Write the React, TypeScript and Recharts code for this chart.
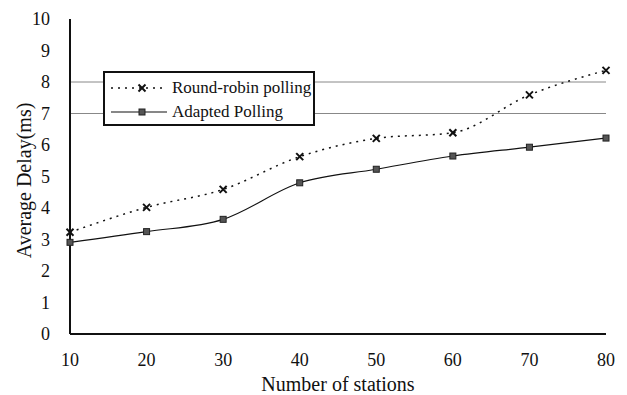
import { LineChart, Line, XAxis, YAxis, ReferenceLine } from 'recharts';

const stations = [10, 20, 30, 40, 50, 60, 70, 80];
const roundRobin = [3.23, 4.02, 4.59, 5.63, 6.21, 6.39, 7.59, 8.37];
const adapted = [2.91, 3.25, 3.64, 4.8, 5.23, 5.65, 5.93, 6.22];
const yTicks = [0, 1, 2, 3, 4, 5, 6, 7, 8, 9, 10];
const gridValues = [7, 8];

const data = stations.map((s, i) => ({ s, rr: roundRobin[i], ap: adapted[i] }));

const FONT = "'Liberation Serif', serif";

function Cross(props: any) {
  const { cx, cy } = props;
  if (cx == null || cy == null) return null;
  return (
    <g stroke="#111" strokeWidth={2}>
      <line x1={cx - 3.5} y1={cy - 3.5} x2={cx + 3.5} y2={cy + 3.5} />
      <line x1={cx - 3.5} y1={cy + 3.5} x2={cx + 3.5} y2={cy - 3.5} />
    </g>
  );
}

function Square(props: any) {
  const { cx, cy } = props;
  if (cx == null || cy == null) return null;
  return <rect x={cx - 3} y={cy - 3} width={6} height={6} fill="#555" stroke="#222" strokeWidth={1} />;
}

function LegendBox() {
  return (
    <div
      style={{
        position: 'absolute',
        left: 103,
        top: 71,
        border: '2px solid #111',
        background: '#fff',
        width: 212,
        height: 55,
        boxSizing: 'border-box',
        fontFamily: FONT,
        fontSize: 17,
        color: '#111',
        padding: '3px 0 0 4px',
        whiteSpace: 'nowrap',
      }}
    >
      <div style={{ display: 'flex', alignItems: 'center', height: 24 }}>
        <svg width={60} height={12}>
          <line x1={2} y1={6} x2={58} y2={6} stroke="#111" strokeWidth={1.5} strokeDasharray="2 5" />
          <Cross cx={33} cy={6} />
        </svg>
        <span style={{ marginLeft: 3 }}>Round-robin polling</span>
      </div>
      <div style={{ display: 'flex', alignItems: 'center', height: 24 }}>
        <svg width={60} height={12}>
          <line x1={2} y1={6} x2={58} y2={6} stroke="#111" strokeWidth={1.2} />
          <Square cx={33} cy={6} />
        </svg>
        <span style={{ marginLeft: 3 }}>Adapted Polling</span>
      </div>
    </div>
  );
}

export default function App() {
  return (
    <div style={{ position: 'absolute', left: 0, top: 0, width: 627, height: 395, background: '#fff' }}>
      <LineChart width={627} height={395} data={data} margin={{ top: 19, right: 21, bottom: 0, left: 0 }}>
        {gridValues.map((g) => (
          <ReferenceLine key={g} y={g} stroke="#888" strokeWidth={1} />
        ))}
        <XAxis
          dataKey="s"
          type="number"
          domain={[10, 80]}
          ticks={stations}
          height={61}
          axisLine={{ stroke: '#111', strokeWidth: 2 }}
          tickLine={false}
          tickMargin={13}
          tick={{ fill: '#111', fontSize: 18, fontFamily: FONT }}
          label={{ value: 'Number of stations', position: 'insideBottom', offset: 4, fill: '#111', fontSize: 20, fontFamily: FONT }}
        />
        <XAxis xAxisId="top" dataKey="s" type="number" domain={[10, 80]} orientation="top" height={0} tick={false} tickLine={false} axisLine={{ stroke: '#111', strokeWidth: 1.5 }} />
        <YAxis
          type="number"
          domain={[0, 10]}
          ticks={yTicks}
          width={70}
          interval={0}
          axisLine={{ stroke: '#111', strokeWidth: 2 }}
          tickLine={false}
          tickMargin={14}
          tick={{ fill: '#111', fontSize: 18, fontFamily: FONT }}
          label={{ value: 'Average Delay(ms)', angle: -90, position: 'insideLeft', offset: 24, dy: 4, fill: '#111', fontSize: 20, fontFamily: FONT, style: { textAnchor: 'middle' } }}
        />
        <YAxis yAxisId="right" orientation="right" domain={[0, 10]} width={0} tick={false} tickLine={false} axisLine={{ stroke: '#111', strokeWidth: 2 }} />
        <Line
          dataKey="rr"
          type="monotone"
          stroke="#111"
          strokeWidth={1.5}
          strokeDasharray="2 5"
          dot={<Cross />}
          activeDot={false}
          isAnimationActive={false}
        />
        <Line
          dataKey="ap"
          type="monotone"
          stroke="#111"
          strokeWidth={1.2}
          dot={<Square />}
          activeDot={false}
          isAnimationActive={false}
        />
      </LineChart>
      <LegendBox />
    </div>
  );
}
